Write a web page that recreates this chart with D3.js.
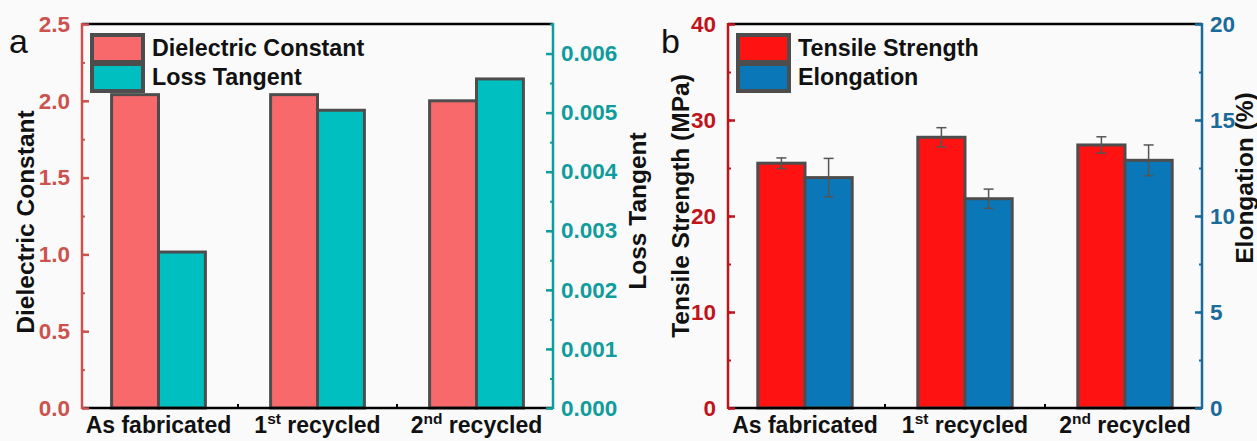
<!DOCTYPE html>
<html>
<head>
<meta charset="utf-8">
<script src="https://cdn.jsdelivr.net/npm/d3@7"></script>
<style>
  html, body { margin: 0; padding: 0; background: #fafafa; }
  svg { display: block; font-family: "Liberation Sans", Arial, sans-serif; }
</style>
</head>
<body>
<svg id="chart" width="1257" height="441"></svg>
<script>
// ---------- DATA ----------
const categories = ["As fabricated", "1st recycled", "2nd recycled"];

// Panel a
const dielectricConstant = [2.04, 2.04, 2.00];
const lossTangent = [0.00264, 0.00504, 0.00557];
const dielectricTicks = [0, 0.5, 1.0, 1.5, 2.0, 2.5];
const lossTicks = [0, 0.001, 0.002, 0.003, 0.004, 0.005, 0.006];

// Panel b
const tensileStrength = [25.5, 28.2, 27.4];
const tensileError = [0.55, 1.0, 0.85];
const elongation = [12.0, 10.9, 12.9];
const elongationError = [1.0, 0.5, 0.8];
const tensileTicks = [0, 10, 20, 30, 40];
const elongationTicks = [0, 5, 10, 15, 20];

// ---------- DRAW ----------
const svg = d3.select("#chart");
const yTop = 24, yBot = 408;
const barStroke = "#4d4d4d";

function drawPanel(cfg) {
  const g = svg.append("g");
  const x = d3.scaleBand().domain(categories).range([cfg.x0 - 3, cfg.x1 + 3]);
  const bw = x.bandwidth();
  const xs = d3.scaleBand().domain([0, 1]).range([bw * 0.205, bw * 0.795]);

  const yL = d3.scaleLinear().domain(cfg.leftDomain).range([yBot, yTop]);
  const yR = d3.scaleLinear().domain(cfg.rightDomain).range([yBot, yTop]);

  // bars
  const series = [
    { vals: cfg.leftVals, y: yL, color: cfg.leftBar, err: cfg.leftErr },
    { vals: cfg.rightVals, y: yR, color: cfg.rightBar, err: cfg.rightErr }
  ];
  series.forEach((s, si) => {
    g.selectAll(null).data(categories).enter().append("rect")
      .attr("x", c => x(c) + xs(si))
      .attr("y", (c, i) => s.y(s.vals[i]))
      .attr("width", xs.bandwidth())
      .attr("height", (c, i) => yBot - s.y(s.vals[i]))
      .attr("fill", s.color)
      .attr("stroke", barStroke)
      .attr("stroke-width", 3);
  });
  series.forEach((s, si) => {
    if (!s.err) return;
    categories.forEach((c, i) => {
      const cx = x(c) + xs(si) + xs.bandwidth() / 2;
      const top = s.y(s.vals[i] + s.err[i]), bot = s.y(s.vals[i] - s.err[i]);
      g.append("line").attr("x1", cx).attr("x2", cx).attr("y1", top).attr("y2", bot)
        .attr("stroke", "#555").attr("stroke-width", 1.5);
      [top, bot].forEach(yy => g.append("line").attr("x1", cx - 5).attr("x2", cx + 5)
        .attr("y1", yy).attr("y2", yy).attr("stroke", "#555").attr("stroke-width", 1.5));
    });
  });

  // top frame & bottom axis
  g.append("line").attr("x1", cfg.x0).attr("x2", cfg.x1).attr("y1", yTop).attr("y2", yTop)
    .attr("stroke", "#000").attr("stroke-width", 2.5);
  g.append("line").attr("x1", cfg.x0).attr("x2", cfg.x1).attr("y1", yBot).attr("y2", yBot)
    .attr("stroke", "#000").attr("stroke-width", 2.5);
  // boundary ticks on x axis
  categories.slice(1).forEach(c => {
    g.append("line").attr("x1", x(c)).attr("x2", x(c)).attr("y1", yBot).attr("y2", yBot - 4)
      .attr("stroke", "#000").attr("stroke-width", 2);
  });

  // x labels
  categories.forEach(c => {
    const t = g.append("text").attr("x", x(c) + bw / 2).attr("y", 433)
      .attr("text-anchor", "middle").attr("font-size", 23).attr("font-weight", "bold").attr("fill", "#111");
    const m = c.match(/^(\d)(st|nd|rd|th) (.*)$/);
    if (m) {
      t.append("tspan").text(m[1]);
      t.append("tspan").text(m[2]).attr("font-size", 15.5).attr("dy", -9);
      t.append("tspan").text(" " + m[3]).attr("dy", 9);
    } else t.text(c);
  });

  // left axis
  const leftMinor = d3.range(cfg.leftDomain[0], cfg.leftDomain[1] + 1e-9, cfg.leftMinorStep);
  const aL = g.append("g").attr("transform", `translate(${cfg.x0},0)`)
    .call(d3.axisLeft(yL).tickValues(leftMinor).tickSize(-3).tickSizeOuter(0).tickFormat(""));
  aL.select(".domain").remove();
  aL.selectAll("line").attr("stroke", cfg.leftColor).attr("stroke-width", 2);
  const aL2 = g.append("g").attr("transform", `translate(${cfg.x0},0)`)
    .call(d3.axisLeft(yL).tickValues(cfg.leftTicks).tickSize(-7).tickSizeOuter(0)
      .tickPadding(12).tickFormat(cfg.leftFormat));
  aL2.select(".domain").remove();
  aL2.selectAll("line").attr("stroke", cfg.leftColor).attr("stroke-width", 2.5);
  aL2.selectAll("text").attr("fill", cfg.leftColor).attr("font-size", 22.5)
    .attr("font-weight", "bold").attr("font-family", "Liberation Sans, Arial, sans-serif");
  g.append("line").attr("x1", cfg.x0).attr("x2", cfg.x0).attr("y1", yTop - 1).attr("y2", yBot + 1)
    .attr("stroke", cfg.leftColor).attr("stroke-width", 2.5);

  // right axis
  const rightMinor = d3.range(cfg.rightDomain[0], cfg.rightDomain[1] + 1e-9, cfg.rightMinorStep);
  const aR = g.append("g").attr("transform", `translate(${cfg.x1},0)`)
    .call(d3.axisRight(yR).tickValues(rightMinor).tickSize(-3).tickSizeOuter(0).tickFormat(""));
  aR.select(".domain").remove();
  aR.selectAll("line").attr("stroke", cfg.rightColor).attr("stroke-width", 2);
  const aR2 = g.append("g").attr("transform", `translate(${cfg.x1},0)`)
    .call(d3.axisRight(yR).tickValues(cfg.rightTicks).tickSize(-7).tickSizeOuter(0)
      .tickPadding(8).tickFormat(cfg.rightFormat));
  aR2.select(".domain").remove();
  aR2.selectAll("line").attr("stroke", cfg.rightColor).attr("stroke-width", 2.5);
  aR2.selectAll("text").attr("fill", cfg.rightColor).attr("font-size", 22.5)
    .attr("font-weight", "bold").attr("font-family", "Liberation Sans, Arial, sans-serif");
  g.append("line").attr("x1", cfg.x1).attr("x2", cfg.x1).attr("y1", yTop - 1).attr("y2", yBot + 1)
    .attr("stroke", cfg.rightColor).attr("stroke-width", 2.5);

  // axis titles
  g.append("text").attr("transform", `translate(${cfg.leftTitleX},${cfg.leftTitleY}) rotate(-90)`)
    .attr("text-anchor", "middle").attr("font-size", 24.5).attr("font-weight", "bold").attr("fill", "#111")
    .text(cfg.leftTitle);
  g.append("text").attr("transform", `translate(${cfg.rightTitleX},${cfg.rightTitleY}) rotate(-90)`)
    .attr("text-anchor", "middle").attr("font-size", 24.5).attr("font-weight", "bold").attr("fill", "#111")
    .text(cfg.rightTitle);

  // panel letter
  g.append("text").attr("x", cfg.letterX).attr("y", 53).attr("font-size", 34).attr("fill", "#111")
    .text(cfg.letter);

  // legend
  const lg = g.append("g").attr("transform", `translate(${cfg.x0 + 10},35)`);
  [[cfg.leftBar, cfg.leftName], [cfg.rightBar, cfg.rightName]].forEach((d, i) => {
    lg.append("rect").attr("x", 0).attr("y", i * 29).attr("width", 51).attr("height", 27)
      .attr("fill", d[0]).attr("stroke", barStroke).attr("stroke-width", 4);
    lg.append("text").attr("x", 60).attr("y", i * 29 + 21).attr("font-size", 23.3)
      .attr("font-weight", "bold").attr("fill", "#111").text(d[1]);
  });
}

drawPanel({
  x0: 82, x1: 553, letter: "a", letterX: 9,
  leftDomain: [0, 2.5], rightDomain: [0, 0.0065],
  leftVals: dielectricConstant, rightVals: lossTangent,
  leftTicks: dielectricTicks, rightTicks: lossTicks,
  leftMinorStep: 0.25, rightMinorStep: 0.0005,
  leftFormat: d3.format(".1f"), rightFormat: d3.format(".3f"),
  leftBar: "#f8696b", rightBar: "#00bfc0",
  leftColor: "#cc524e", rightColor: "#109c9c",
  leftName: "Dielectric Constant", rightName: "Loss Tangent",
  leftTitle: "Dielectric Constant", rightTitle: "Loss Tangent",
  leftTitleX: 34, leftTitleY: 222, rightTitleX: 646, rightTitleY: 211
});

drawPanel({
  x0: 728, x1: 1202, letter: "b", letterX: 661,
  leftDomain: [0, 40], rightDomain: [0, 20],
  leftVals: tensileStrength, rightVals: elongation,
  leftErr: tensileError, rightErr: elongationError,
  leftTicks: tensileTicks, rightTicks: elongationTicks,
  leftMinorStep: 5, rightMinorStep: 2.5,
  leftFormat: d3.format("d"), rightFormat: d3.format("d"),
  leftBar: "#fe1212", rightBar: "#0a78b8",
  leftColor: "#c0141a", rightColor: "#1a6a9a",
  leftName: "Tensile Strength", rightName: "Elongation",
  leftTitle: "Tensile Strength (MPa)", rightTitle: "Elongation (%)",
  leftTitleX: 689, leftTitleY: 206, rightTitleX: 1253, rightTitleY: 178
});
</script>
</body>
</html>
